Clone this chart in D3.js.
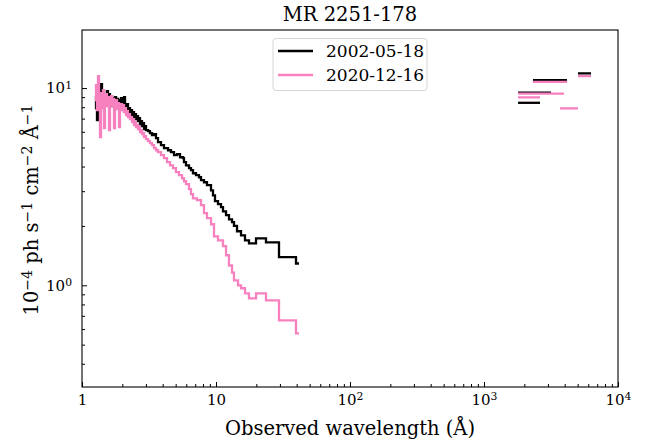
<!DOCTYPE html>
<html>
<head>
<meta charset="utf-8">
<script src="https://cdn.jsdelivr.net/npm/d3@7"></script>
<style>
  body { margin: 0; background: #fff; }
  text { font-family: "DejaVu Serif", serif; fill: #000; }
</style>
</head>
<body>
<svg id="chart" width="654" height="442"></svg>
<script>
// X-ray spectrum, 2002-05-18: bin start wavelengths (Å); last entry is the final bin edge
const wave2002 = [1.250, 1.272, 1.294, 1.316, 1.339, 1.362, 1.386, 1.410, 1.434, 1.459, 1.484, 1.510,
  1.536, 1.563, 1.590, 1.618, 1.646, 1.675, 1.703, 1.733, 1.763, 1.794, 1.825, 1.857, 1.889, 1.921,
  1.954, 1.988, 2.023, 2.058, 2.094, 2.130, 2.167, 2.204, 2.243, 2.281, 2.321, 2.361, 2.402, 2.444,
  2.486, 2.529, 2.573, 2.618, 2.663, 2.709, 2.756, 2.804, 2.852, 2.902, 2.952, 3.004, 3.109, 3.217,
  3.330, 3.446, 3.566, 3.691, 3.887, 4.092, 4.384, 4.615, 4.860, 5.117, 5.387, 5.672, 5.770, 5.972,
  6.288, 6.508, 6.735, 7.091, 7.467, 7.729, 8.136, 8.566, 9.177, 9.497, 9.829, 10.35, 10.90, 11.28,
  11.88, 12.50, 13.17, 13.62, 14.35, 15.37, 16.46, 17.63, 19.89, 23.61, 29.52, 39.54, 41.64];
const flux2002 = [9.11, 7.91, 6.88, 8.69, 10.24, 9.11, 10.48, 8.69, 9.77, 8.29, 9.32, 8.49,
  9.66, 8.39, 9.32, 8.20, 9.11, 8.10, 8.90, 8.29, 9.00, 8.20, 8.80, 8.10, 8.69, 8.29,
  8.90, 8.10, 8.69, 9.00, 8.29, 7.91, 8.29, 7.55, 7.91, 7.47, 7.73, 7.21, 7.55, 7.13,
  7.38, 6.96, 7.21, 6.80, 7.04, 6.57, 6.80, 6.41, 6.64, 6.19, 6.41, 6.12, 6.05, 5.91,
  5.77, 5.84, 5.58, 5.32, 5.14, 4.96, 4.84, 4.73, 4.57, 4.62, 4.46, 4.41, 4.21, 4.06,
  3.93, 3.84, 3.70, 3.62, 3.53, 3.41, 3.33, 3.22, 3.03, 2.86, 2.67, 2.58, 2.49, 2.37,
  2.27, 2.16, 2.09, 2.00, 1.88, 1.79, 1.69, 1.63, 1.73, 1.65, 1.39, 1.29];

// X-ray spectrum, 2020-12-16
const wave2020 = [1.250, 1.272, 1.294, 1.316, 1.339, 1.362, 1.386, 1.410, 1.434, 1.459, 1.484, 1.510,
  1.536, 1.563, 1.590, 1.618, 1.646, 1.675, 1.703, 1.733, 1.763, 1.794, 1.825, 1.857, 1.889, 1.921,
  1.954, 1.988, 2.023, 2.058, 2.094, 2.130, 2.167, 2.204, 2.243, 2.281, 2.321, 2.361, 2.402, 2.444,
  2.486, 2.529, 2.573, 2.618, 2.663, 2.709, 2.756, 2.804, 2.852, 2.902, 2.952, 3.004, 3.109, 3.217,
  3.330, 3.446, 3.566, 3.691, 3.887, 4.092, 4.309, 4.537, 4.777, 5.029, 5.296, 5.576, 5.770, 5.972,
  6.288, 6.508, 6.735, 7.215, 7.729, 8.136, 8.566, 9.177, 9.663, 10.35, 11.28, 11.88, 12.50, 13.17,
  13.62, 14.60, 15.37, 16.46, 17.63, 19.89, 23.61, 29.52, 39.54, 41.64];
const flux2020 = [8.69, 10.36, 7.73, 11.51, 8.90, 5.64, 9.43, 7.91, 9.77, 6.27, 8.80, 9.32,
  8.10, 9.00, 6.12, 8.59, 9.11, 8.10, 8.80, 6.27, 8.39, 8.69, 7.82, 8.39, 6.34, 8.01,
  8.29, 7.73, 8.20, 7.55, 7.91, 7.30, 7.64, 7.13, 7.38, 6.96, 7.13, 6.72, 6.96, 6.49,
  6.72, 6.34, 6.49, 6.19, 6.34, 5.98, 6.12, 5.84, 5.91, 5.64, 5.70, 5.51, 5.38, 5.26,
  5.14, 4.96, 4.84, 4.73, 4.57, 4.41, 4.21, 4.06, 3.93, 3.75, 3.62, 3.49, 3.37, 3.26,
  3.07, 2.90, 2.76, 2.70, 2.55, 2.32, 2.19, 2.04, 1.77, 1.69, 1.58, 1.42, 1.26, 1.16,
  1.06, 1.00, 0.966, 0.911, 0.859, 0.911, 0.839, 0.664, 0.571];

// UV / optical photometry: filter band limits (Å) and flux
const photLo2002 = [1795, 1795, 2321, 5027];
const photHi2002 = [2618, 3163, 4160, 6291];
const photFlux2002 = [8.42, 9.49, 10.98, 11.87];
const photLo2020 = [1795, 1795, 2321, 3690, 5027];
const photHi2020 = [3955, 2618, 4160, 5027, 6291];
const photFlux2020 = [9.38, 8.97, 10.76, 7.89, 11.50];

const seriesNames = ["2002-05-18", "2020-12-16"];
const seriesColors = ["#000000", "#f781bf"];

const xTickValues = [1, 10, 100, 1000, 10000];
const xTickBase = ["1", "10", "10", "10", "10"];
const xTickExp = ["", "", "2", "3", "4"];
const yTickValues = [1, 10];
const yTickBase = ["10", "10"];
const yTickExp = ["0", "1"];

const titleText = "MR 2251-178";
const xLabel = "Observed wavelength (Å)";

const svg = d3.select("#chart");
const box = { left: 82, right: 618, top: 30, bottom: 387 };

const x = d3.scaleLog().domain([1, 1e4]).range([box.left, box.right]);
const y = d3.scaleLog().domain([0.305, 19.7]).range([box.bottom, box.top]);

// minor ticks at 2..9 of each decade
const xMinor = [];
[1, 10, 100, 1000].forEach(d => { for (let k = 2; k <= 9; k++) xMinor.push(k * d); });
const yMinor = [];
[0.1, 1].forEach(d => { for (let k = 2; k <= 9; k++) { const v = k * d; if (v > 0.305 && v < 19.7) yMinor.push(v); } });

function superscriptLabels(g, bases, exps, values) {
  g.selectAll(".tick text").each(function (d) {
    const i = values.indexOf(d);
    const t = d3.select(this).text(null);
    t.append("tspan").text(bases[i]);
    if (exps[i]) t.append("tspan").attr("dy", "-0.42em").attr("font-size", "0.72em").text(exps[i]);
  });
}

// bottom axis
const gx = svg.append("g").attr("transform", `translate(0,${box.bottom})`)
  .call(d3.axisBottom(x).tickValues(xTickValues).tickSize(-5).tickPadding(7));
superscriptLabels(gx, xTickBase, xTickExp, xTickValues);
svg.append("g").attr("transform", `translate(0,${box.bottom})`)
  .call(d3.axisBottom(x).tickValues(xMinor).tickSize(-3).tickFormat(""));

// left axis
const gy = svg.append("g").attr("transform", `translate(${box.left},0)`)
  .call(d3.axisLeft(y).tickValues(yTickValues).tickSize(-5).tickPadding(10));
superscriptLabels(gy, yTickBase, yTickExp, yTickValues);
svg.append("g").attr("transform", `translate(${box.left},0)`)
  .call(d3.axisLeft(y).tickValues(yMinor).tickSize(-3).tickFormat(""));

svg.selectAll(".domain").remove();
svg.selectAll(".tick line").attr("stroke", "#000").attr("stroke-width", 1);
svg.selectAll(".tick text").attr("font-size", 15).attr("font-family", "DejaVu Serif").attr("fill", "#000");

// frame
svg.append("rect")
  .attr("x", box.left).attr("y", box.top)
  .attr("width", box.right - box.left).attr("height", box.bottom - box.top)
  .attr("fill", "none").attr("stroke", "#000").attr("stroke-width", 1.1);

// spectra as steps
const stepLine = d3.line().x(d => x(d[0])).y(d => y(d[1])).curve(d3.curveStepAfter);
function stepPoints(waves, fluxes) {
  const pts = fluxes.map((f, i) => [waves[i], f]);
  pts.push([waves[fluxes.length], fluxes[fluxes.length - 1]]);
  return pts;
}
const spectra = [[wave2002, flux2002], [wave2020, flux2020]];
spectra.forEach(([w, f], i) => {
  svg.append("path").datum(stepPoints(w, f))
    .attr("d", stepLine).attr("fill", "none")
    .attr("stroke", seriesColors[i]).attr("stroke-width", 2.3)
    .attr("stroke-linejoin", "miter");
});

// photometric points as horizontal band bars
const phot = [[photLo2002, photHi2002, photFlux2002], [photLo2020, photHi2020, photFlux2020]];
phot.forEach(([lo, hi, fl], i) => {
  svg.append("g").selectAll("line").data(fl).join("line")
    .attr("x1", (d, j) => x(lo[j])).attr("x2", (d, j) => x(hi[j]))
    .attr("y1", d => y(d)).attr("y2", d => y(d))
    .attr("stroke", seriesColors[i]).attr("stroke-width", 2.3);
});

// title and axis labels
svg.append("text").attr("x", (box.left + box.right) / 2).attr("y", 21)
  .attr("text-anchor", "middle").attr("font-size", 19.5).text(titleText);
svg.append("text").attr("x", (box.left + box.right) / 2).attr("y", 435)
  .attr("text-anchor", "middle").attr("font-size", 19.5).text(xLabel);

const yl = svg.append("text").attr("transform", `translate(37.5,210) rotate(-90)`)
  .attr("text-anchor", "middle").attr("font-size", 19.5);
const yParts = [["10", ""], ["−4", "sup"], [" ph s", ""], ["−1", "sup"], [" cm", ""], ["−2", "sup"], [" Å", ""], ["−1", "sup"]];
yParts.forEach(([s, k], i) => {
  const prevSup = i > 0 && yParts[i - 1][1] === "sup";
  const t = yl.append("tspan").text(s);
  if (k === "sup") t.attr("dy", "-0.42em").attr("font-size", "0.72em");
  else if (prevSup) t.attr("dy", (0.42 * 0.72) + "em");
});

// legend
const lg = svg.append("g");
lg.append("rect").attr("x", 273).attr("y", 38.5).attr("width", 154).attr("height", 52)
  .attr("rx", 3).attr("fill", "#fff").attr("fill-opacity", 0.8)
  .attr("stroke", "#d6d6d6").attr("stroke-width", 1);
seriesNames.forEach((name, i) => {
  const cy = 51 + i * 24;
  lg.append("line").attr("x1", 278).attr("x2", 313).attr("y1", cy).attr("y2", cy)
    .attr("stroke", seriesColors[i]).attr("stroke-width", 2.3);
  lg.append("text").attr("x", 326).attr("y", cy + 6).attr("font-size", 17).text(name);
});
</script>
</body>
</html>
